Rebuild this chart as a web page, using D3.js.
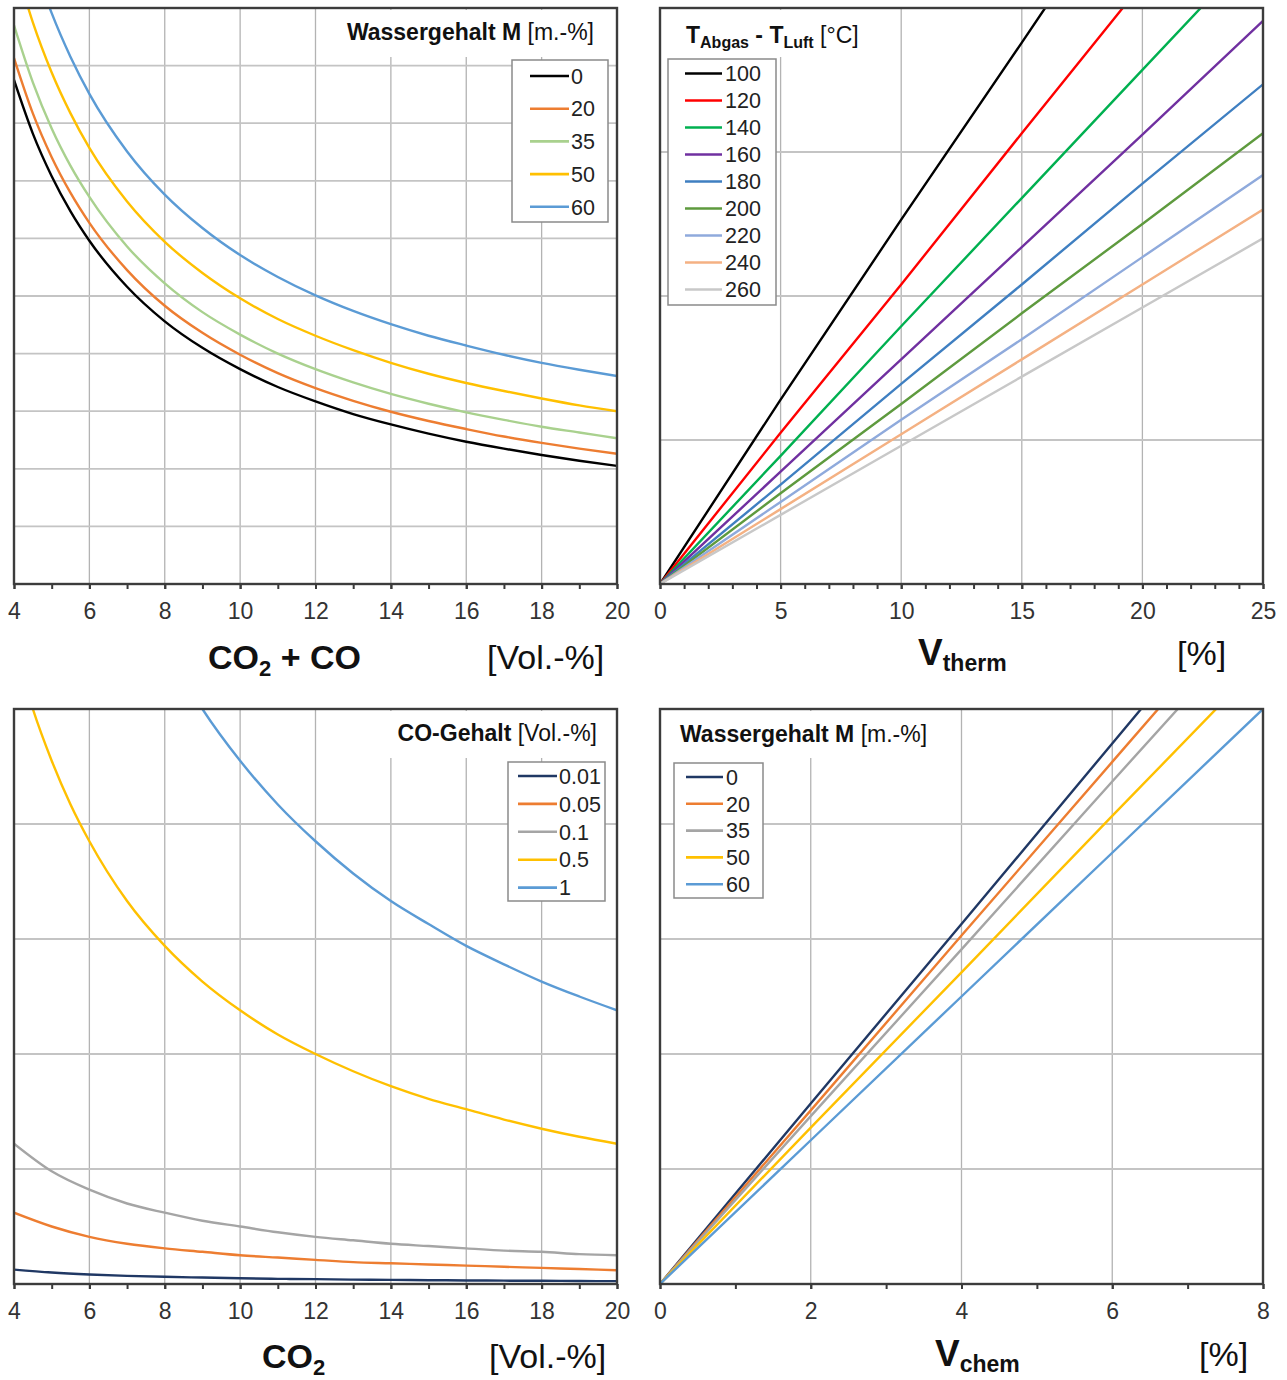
<!DOCTYPE html>
<html><head><meta charset="utf-8">
<script src="https://cdn.jsdelivr.net/npm/d3@7"></script>
<style>
body{margin:0;background:#fff}
svg{display:block}
text{font-family:"Liberation Sans",Arial,Helvetica,sans-serif;white-space:pre}
</style>
</head><body>
<svg id="c" width="1287" height="1380"></svg>
<script>
// ---------------- DATA ----------------
// Panel 1: Wassergehalt M [m.-%] vs CO2+CO [Vol.-%]
const p1X = [4,4.5,5,5.5,6,7,8,9,10,11,12,13,14,15,16,17,18,19,20];
const p1Labels = ["0","20","35","50","60"];
const p1M0  = [8.75,7.82,7.08,6.47,5.96,5.16,4.56,4.10,3.73,3.42,3.17,2.95,2.77,2.61,2.47,2.35,2.24,2.14,2.05];
const p1M20 = [9.13,8.17,7.41,6.79,6.27,5.45,4.83,4.36,3.98,3.66,3.40,3.18,2.99,2.83,2.69,2.56,2.45,2.35,2.26];
const p1M35 = [9.70,8.71,7.91,7.26,6.72,5.86,5.22,4.72,4.33,4.00,3.73,3.50,3.30,3.13,2.98,2.85,2.73,2.63,2.53];
const p1M50 = [10.84,9.75,8.88,8.17,7.57,6.64,5.94,5.40,4.96,4.60,4.31,4.06,3.84,3.65,3.49,3.35,3.22,3.10,3.00];
const p1M60 = [12.01,10.84,9.91,9.15,8.51,7.51,6.76,6.18,5.71,5.33,5.01,4.74,4.51,4.31,4.14,3.98,3.84,3.72,3.61];
const p1XTicks = [4,6,8,10,12,14,16,18,20];

// Panel 2: T_Abgas - T_Luft [°C] vs V_therm [%]
const p2X = [0,5,10,15,20,25];
const p2Labels = ["100","120","140","160","180","200","220","240","260"];
const p2T100 = [0,1.28,2.53,3.76,5.00,6.23];
const p2T120 = [0,1.05,2.08,3.13,4.17,5.21];
const p2T140 = [0,0.89,1.79,2.68,3.57,4.46];
const p2T160 = [0,0.78,1.56,2.34,3.12,3.91];
const p2T180 = [0,0.69,1.39,2.08,2.78,3.47];
const p2T200 = [0,0.63,1.25,1.88,2.50,3.13];
const p2T220 = [0,0.57,1.14,1.70,2.27,2.84];
const p2T240 = [0,0.52,1.04,1.56,2.08,2.60];
const p2T260 = [0,0.48,0.96,1.44,1.92,2.40];
const p2XTicks = [0,5,10,15,20,25];

// Panel 3: CO-Gehalt [Vol.-%] vs CO2 [Vol.-%]
const p3X = [4,5,6,7,8,9,10,11,12,13,14,15,16,17,18,19,20];
const p3Labels = ["0.01","0.05","0.1","0.5","1"];
const p3CO001 = [0.125,0.100,0.083,0.071,0.063,0.056,0.050,0.045,0.042,0.038,0.036,0.033,0.031,0.029,0.028,0.026,0.025];
const p3CO005 = [0.62,0.50,0.41,0.35,0.31,0.28,0.25,0.23,0.21,0.19,0.18,0.17,0.16,0.15,0.14,0.13,0.12];
const p3CO01  = [1.22,0.98,0.82,0.70,0.62,0.55,0.50,0.45,0.41,0.38,0.35,0.33,0.31,0.29,0.28,0.26,0.25];
const p3X05   = [4,4.5,5,5.5,6,7,8,9,10,11,12,13,14,15,16,17,18,19,20];
const p3CO05  = [5.56,5.00,4.55,4.17,3.85,3.33,2.94,2.63,2.38,2.17,2.00,1.85,1.72,1.61,1.52,1.43,1.35,1.28,1.22];
const p3X1    = [8,9,10,11,12,13,14,15,16,17,18,19,20];
const p3CO1   = [5.56,5.00,4.55,4.17,3.85,3.57,3.33,3.13,2.94,2.78,2.63,2.50,2.38];
const p3XTicks = [4,6,8,10,12,14,16,18,20];

// Panel 4: Wassergehalt M [m.-%] vs V_chem [%]
const p4X = [0,2,4,6,8];
const p4Labels = ["0","20","35","50","60"];
const p4M0  = [0,1.57,3.13,4.70,6.27];
const p4M20 = [0,1.51,3.03,4.54,6.05];
const p4M35 = [0,1.46,2.91,4.37,5.82];
const p4M50 = [0,1.36,2.71,4.07,5.42];
const p4M60 = [0,1.25,2.50,3.75,5.00];
const p4XTicks = [0,2,4,6,8];

// ---------------- DRAWING ----------------
const svg = d3.select("#c");

function richText(parent, x, y, parts, size, anchor, fill) {
  const t = parent.append("text").attr("x", x).attr("y", y)
    .attr("font-size", size).attr("fill", fill || "#111")
    .attr("text-anchor", anchor || "start");
  let shift = 0;
  parts.forEach(p => {
    const sp = t.append("tspan").text(p.t).attr("font-weight", p.b ? "bold" : "normal");
    if (p.size) sp.attr("font-size", p.size);
    const target = p.sub || 0;
    if (target !== shift) { sp.attr("dy", target - shift); shift = target; }
  });
  return t;
}

function panel(cfg) {
  const g = svg.append("g");
  const x = d3.scaleLinear().domain(cfg.xDomain).range([cfg.left, cfg.right]);
  const y = d3.scaleLinear().domain(cfg.yDomain).range([cfg.bottom, cfg.top]);
  const cid = "clip" + cfg.id;
  svg.append("defs").append("clipPath").attr("id", cid).append("rect")
    .attr("x", cfg.left).attr("y", cfg.top)
    .attr("width", cfg.right - cfg.left).attr("height", cfg.bottom - cfg.top);

  // gridlines
  g.append("g").selectAll("line").data(cfg.xTicks).join("line")
    .attr("x1", d => x(d)).attr("x2", d => x(d))
    .attr("y1", cfg.top).attr("y2", cfg.bottom)
    .attr("stroke", "#b3b3b3").attr("stroke-width", 1.3);
  g.append("g").selectAll("line").data(d3.range(cfg.yDomain[0] + 1, cfg.yDomain[1])).join("line")
    .attr("y1", d => y(d)).attr("y2", d => y(d))
    .attr("x1", cfg.left).attr("x2", cfg.right)
    .attr("stroke", "#c4c4c4").attr("stroke-width", 1.8);

  // title background (hides gridlines)
  g.append("rect").attr("x", cfg.titleBg[0]).attr("y", cfg.titleBg[1])
    .attr("width", cfg.titleBg[2]).attr("height", cfg.titleBg[3]).attr("fill", "#fff");

  // series
  const line = d3.line().x(d => x(d[0])).y(d => y(d[1])).curve(cfg.curve);
  g.append("g").attr("clip-path", `url(#${cid})`)
    .selectAll("path").data(cfg.series).join("path")
    .attr("d", s => line(s.xs.map((xv, i) => [xv, s.ys[i]])))
    .attr("fill", "none").attr("stroke", s => s.color)
    .attr("stroke-width", 2.4).attr("stroke-linejoin", "round");

  // x axis: minor ticks
  const minorVals = d3.range(cfg.xDomain[0], cfg.xDomain[1] + 0.001, cfg.minorStep);
  const minor = g.append("g").attr("transform", `translate(0,${cfg.bottom})`)
    .call(d3.axisBottom(x).tickValues(minorVals).tickSize(5).tickFormat(""));
  minor.select(".domain").remove();
  minor.selectAll(".tick line").attr("stroke", "#3a3a3a").attr("stroke-width", 2);

  // x axis: major ticks & labels
  const ax = g.append("g").attr("transform", `translate(0,${cfg.bottom})`)
    .call(d3.axisBottom(x).tickValues(cfg.xTicks).tickSize(5).tickFormat(d3.format("d")));
  ax.select(".domain").remove();
  ax.selectAll(".tick line").attr("stroke", "#3a3a3a").attr("stroke-width", 2);
  ax.selectAll(".tick text").attr("y", 35).attr("dy", 0)
    .attr("font-size", 23).attr("fill", "#333")
    .attr("font-family", '"Liberation Sans",Arial,sans-serif');

  // border
  g.append("rect").attr("x", cfg.left).attr("y", cfg.top)
    .attr("width", cfg.right - cfg.left).attr("height", cfg.bottom - cfg.top)
    .attr("fill", "none").attr("stroke", "#3c3c3c").attr("stroke-width", 2.4);

  // legend title
  richText(g, cfg.title.x, cfg.title.y, cfg.title.parts, 23, cfg.title.anchor);

  // legend
  const L = cfg.legend;
  const lg = g.append("g");
  lg.append("rect").attr("x", L.x).attr("y", L.y).attr("width", L.w).attr("height", L.h)
    .attr("fill", "#fff").attr("stroke", "#8a8a8a").attr("stroke-width", 1.5);
  const items = lg.selectAll("g.item").data(cfg.series).join("g").attr("class", "item")
    .attr("transform", (d, i) => `translate(0,${L.row0 + i * L.dy})`);
  items.append("line").attr("x1", L.lx0).attr("x2", L.lx1).attr("y1", 0).attr("y2", 0)
    .attr("stroke", d => d.color).attr("stroke-width", 2.6);
  items.append("text").attr("x", L.tx).attr("y", 0).attr("dy", "0.36em")
    .attr("font-size", 21.5).attr("fill", "#222").text(d => d.label);

  // axis titles
  richText(g, cfg.axisTitle.x, cfg.axisTitle.y, cfg.axisTitle.parts, cfg.axisTitle.size);
  richText(g, cfg.unit.x, cfg.unit.y, [{t: cfg.unit.t}], 34);
}

function mk(xs, ysList, labels, colors) {
  return ysList.map((ys, i) => ({xs: Array.isArray(xs[0]) ? xs[i] : xs, ys, label: labels[i], color: colors[i]}));
}

const excel5 = ["#000000", "#ED7D31", "#A9D18E", "#FFC000", "#5B9BD5"];
const p2Colors = ["#000000", "#FF0000", "#00B050", "#7030A0", "#3F7FC1", "#5E9A3E", "#8FAADC", "#F4B183", "#C8C8C8"];
const p34Colors = ["#203864", "#ED7D31", "#A5A5A5", "#FFC000", "#5B9BD5"];

// Panel 1
panel({
  id: 1, left: 14, right: 617, top: 8, bottom: 584,
  xDomain: [4, 20], yDomain: [0, 10], xTicks: p1XTicks, minorStep: 1,
  curve: d3.curveMonotoneX,
  series: mk(p1X, [p1M0, p1M20, p1M35, p1M50, p1M60], p1Labels, excel5),
  titleBg: [335, 10, 270, 47],
  title: {x: 594, y: 40, anchor: "end", parts: [{t: "Wassergehalt M", b: true}, {t: " [m.-%]"}]},
  legend: {x: 512, y: 60, w: 96, h: 162, row0: 76, dy: 32.7, lx0: 530, lx1: 569, tx: 571},
  axisTitle: {x: 208, y: 669, size: 34, parts: [{t: "CO", b: true}, {t: "2", b: true, size: 22, sub: 7}, {t: " + CO", b: true}]},
  unit: {x: 487, y: 669, t: "[Vol.-%]"}
});

// Panel 2
panel({
  id: 2, left: 660, right: 1263, top: 8, bottom: 584,
  xDomain: [0, 25], yDomain: [0, 4], xTicks: p2XTicks, minorStep: 1,
  curve: d3.curveLinear,
  series: mk(p2X, [p2T100, p2T120, p2T140, p2T160, p2T180, p2T200, p2T220, p2T240, p2T260], p2Labels, p2Colors),
  titleBg: [662, 10, 200, 47],
  title: {x: 686, y: 43, anchor: "start", parts: [
    {t: "T", b: true}, {t: "Abgas", b: true, size: 16, sub: 5}, {t: " - T", b: true},
    {t: "Luft", b: true, size: 16, sub: 5}, {t: " [°C]"}]},
  legend: {x: 668, y: 59, w: 108, h: 246, row0: 73.5, dy: 27, lx0: 685, lx1: 722, tx: 725},
  axisTitle: {x: 918, y: 665, size: 37, parts: [{t: "V", b: true}, {t: "therm", b: true, size: 23, sub: 6}]},
  unit: {x: 1177, y: 665, t: "[%]"}
});

// Panel 3
panel({
  id: 3, left: 14, right: 617, top: 709, bottom: 1284,
  xDomain: [4, 20], yDomain: [0, 5], xTicks: p3XTicks, minorStep: 1,
  curve: d3.curveMonotoneX,
  series: mk([p3X, p3X, p3X, p3X05, p3X1], [p3CO001, p3CO005, p3CO01, p3CO05, p3CO1], p3Labels, p34Colors),
  titleBg: [380, 711, 225, 47],
  title: {x: 597, y: 741, anchor: "end", parts: [{t: "CO-Gehalt", b: true}, {t: " [Vol.-%]"}]},
  legend: {x: 508, y: 762, w: 97, h: 139, row0: 776, dy: 27.9, lx0: 518, lx1: 557, tx: 559},
  axisTitle: {x: 262, y: 1368, size: 34, parts: [{t: "CO", b: true}, {t: "2", b: true, size: 22, sub: 7}]},
  unit: {x: 489, y: 1368, t: "[Vol.-%]"}
});

// Panel 4
panel({
  id: 4, left: 660, right: 1263, top: 709, bottom: 1284,
  xDomain: [0, 8], yDomain: [0, 5], xTicks: p4XTicks, minorStep: 1,
  curve: d3.curveLinear,
  series: mk(p4X, [p4M0, p4M20, p4M35, p4M50, p4M60], p4Labels, p34Colors),
  titleBg: [662, 711, 275, 47],
  title: {x: 680, y: 742, anchor: "start", parts: [{t: "Wassergehalt M", b: true}, {t: " [m.-%]"}]},
  legend: {x: 674, y: 763, w: 89, h: 135, row0: 777, dy: 26.8, lx0: 686, lx1: 723, tx: 726},
  axisTitle: {x: 935, y: 1366, size: 37, parts: [{t: "V", b: true}, {t: "chem", b: true, size: 23, sub: 6}]},
  unit: {x: 1199, y: 1366, t: "[%]"}
});
</script>
</body></html>
